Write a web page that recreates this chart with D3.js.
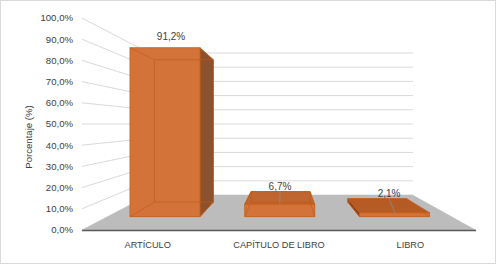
<!DOCTYPE html>
<html>
<head>
<meta charset="utf-8">
<script src="https://cdn.jsdelivr.net/npm/d3@7"></script>
<style>
  body { margin: 0; background: #fff; }
  text { font-family: "Liberation Sans", Arial, sans-serif; fill: #404040; }
</style>
</head>
<body>
<div id="root"></div>
<script>
// datos
var categories = ['ARTÍCULO', 'CAPÍTULO DE LIBRO', 'LIBRO']
var values = [91.2, 6.7, 2.1]
var yTicks = [0, 10, 20, 30, 40, 50, 60, 70, 80, 90, 100]
var yTitle = 'Porcentaje (%)'

var width = 496, height = 264
var svg = d3.select('#root').append('svg')
    .attr('width', width)
    .attr('height', height)

// borde del grafico
svg.append('rect')
    .attr('x', 0.5).attr('y', 0.5)
    .attr('width', width - 1).attr('height', height - 1)
    .attr('fill', '#fff').attr('stroke', '#d9d9d9')

var marginLeft = 82, plotRight = 476, plotBottom = 230, plotTop = 18
var X = d3.scaleBand().domain(categories).range([marginLeft, plotRight])
    .paddingInner(0.39).paddingOuter(0.195)
var Y = d3.scaleLinear().domain([0, 100]).range([plotBottom, plotTop])
var fmt = d3.formatLocale({ decimal: ',', thousands: '.', grouping: [3], currency: ['', ''] })
var tickFmt = fmt.format('.1%')

// perspectiva: z=0 frente, z=1 fondo
var cx = 285, cy = 124
function persp(z) { return 1 / (1 + 0.4925 * z) }
function P(x, y, z) {
    var s = persp(z)
    return [cx + (x - cx) * s, cy + (y - cy) * s]
}
var zFront = 0.293, zBack = 0.728
function pts(arr) { return arr.map(function (p) { return p.join(',') }).join(' ') }

// lineas de division (pared izquierda + fondo)
var grid = svg.append('g').attr('class', 'grid')
yTicks.forEach(function (v) {
    var a = P(marginLeft, Y(v), 0), b = P(marginLeft, Y(v), 1), c = P(plotRight, Y(v), 1)
    grid.append('polyline')
        .attr('points', pts([a, b, c]))
        .attr('fill', 'none')
        .attr('stroke', '#d9d9d9')
        .attr('stroke-width', 1)
})

// piso
svg.append('polygon')
    .attr('points', pts([P(marginLeft, plotBottom, 0), P(plotRight, plotBottom, 0), P(plotRight, plotBottom, 1), P(marginLeft, plotBottom, 1)]))
    .attr('fill', '#bcbcbc')
svg.append('line')
    .attr('x1', marginLeft).attr('x2', plotRight)
    .attr('y1', plotBottom + 0.5).attr('y2', plotBottom + 0.5)
    .attr('stroke', '#595959').attr('stroke-width', 1.6)

// etiquetas eje Y
svg.append('g').selectAll('text')
    .data(yTicks).enter().append('text')
    .attr('x', 73)
    .attr('y', function (d) { return Y(d) })
    .attr('dy', '0.35em')
    .attr('text-anchor', 'end')
    .style('font-size', '9.6px')
    .text(function (d) { return tickFmt(d / 100) })

svg.append('text')
    .attr('transform', 'translate(32,' + 137 + ') rotate(-90)')
    .attr('text-anchor', 'middle')
    .style('font-size', '9.6px')
    .text(yTitle)

// etiquetas eje X
svg.append('g').selectAll('text')
    .data(categories).enter().append('text')
    .attr('x', function (d) { return X(d) + X.bandwidth() / 2 })
    .attr('y', 247.5)
    .attr('text-anchor', 'middle')
    .style('font-size', '9.2px')
    .text(function (d) { return d })

// barras 3D
var bars = svg.append('g').attr('class', 'bars')
categories.forEach(function (c, i) {
    var xl = X(c), xr = X(c) + X.bandwidth()
    var yb = Y(0), yt = Y(values[i])
    var g = bars.append('g')
    function face(list, fill) {
        g.append('polygon').attr('points', pts(list))
            .attr('fill', fill)
            .attr('stroke', '#c55a11').attr('stroke-width', 0.8)
            .attr('stroke-linejoin', 'round')
    }
    var fTL = P(xl, yt, zFront), fTR = P(xr, yt, zFront), fBR = P(xr, yb, zFront), fBL = P(xl, yb, zFront)
    var bTL = P(xl, yt, zBack), bTR = P(xr, yt, zBack), bBR = P(xr, yb, zBack), bBL = P(xl, yb, zBack)
    if (xr < cx) face([fTR, bTR, bBR, fBR], '#8c5230')
    if (xl > cx) face([fTL, bTL, bBL, fBL], '#7e4220')
    if (yt > cy) face([fTL, fTR, bTR, bTL], i == 2 ? '#b45b26' : '#bf652f')
    face([fTL, fTR, fBR, fBL], '#d3733a')
    // aristas ocultas vistas por transparencia
    var hidden = [[bTL, bTR], [bTR, bBR], [bBR, bBL], [bBL, bTL], [fTL, bTL], [fBL, bBL], [fBR, bBR]]
    hidden.forEach(function (e) {
        g.append('line')
            .attr('x1', e[0][0]).attr('y1', e[0][1])
            .attr('x2', e[1][0]).attr('y2', e[1][1])
            .attr('stroke', '#c0581a').attr('stroke-width', 0.8).attr('stroke-opacity', 0.8)
    })
    // etiqueta de datos
    var sMid = 0.83
    var lx = cx + (xl + X.bandwidth() / 2 - cx) * sMid
    var topVisible = yt > cy
    var topY = Math.min(fTL[1], bTL[1])
    if (topVisible) {
        var fc = P(xl + X.bandwidth() / 2, yt, zFront), bc = P(xl + X.bandwidth() / 2, yt, zBack)
        g.append('line')
            .attr('x1', lx).attr('y1', bTL[1])
            .attr('x2', lx + (fc[0] - bc[0]) * 0.35).attr('y2', fTL[1])
            .attr('stroke', '#8c8c8c').attr('stroke-width', 0.8)
    }
    g.append('text')
        .attr('x', lx)
        .attr('y', topY - (topVisible ? 5 : 11))
        .attr('dy', '0.35em')
        .attr('text-anchor', 'middle')
        .style('font-size', '10px')
        .text(fmt.format('.1%')(values[i] / 100))
})
</script>
</body>
</html>
